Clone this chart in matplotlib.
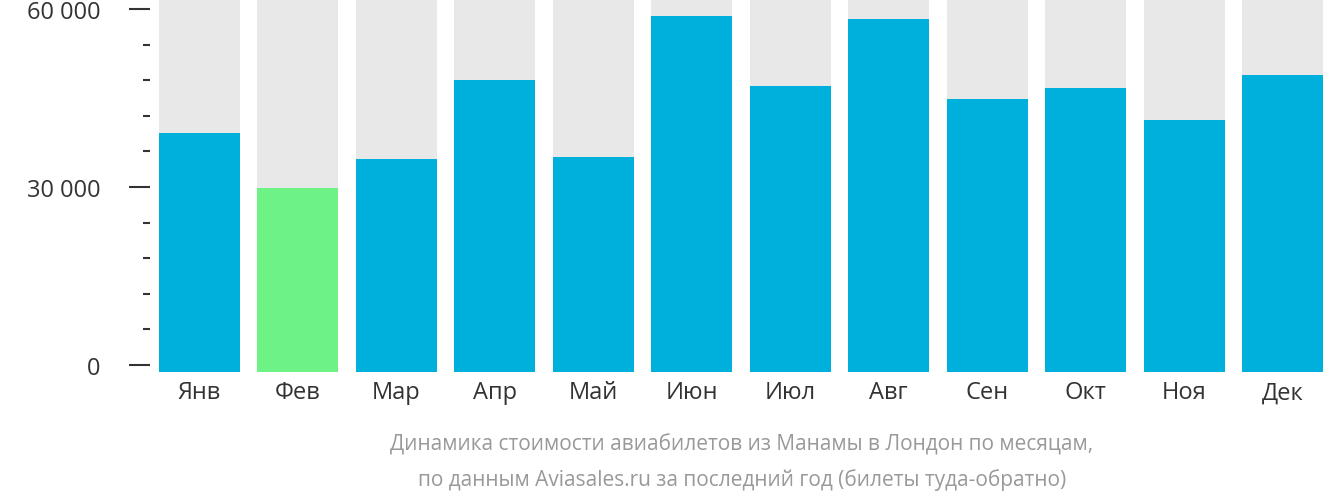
import matplotlib
matplotlib.use("Agg")
import matplotlib.pyplot as plt
from matplotlib.ticker import FixedLocator

months = ["Янв", "Фев", "Мар", "Апр", "Май", "Июн", "Июл", "Авг", "Сен", "Окт", "Ноя", "Дек"]
prices = [39100, 29800, 34700, 48000, 35050, 58800, 47000, 58300, 44800, 46700, 41300, 48900]
colors = ["#00b0dc", "#6cf285"] + ["#00b0dc"] * 10
major_ticks = [0, 30000, 60000]
major_labels = ["0 ₽", "30 000 ₽", "60 000 ₽"]
minor_ticks = [6000, 12000, 18000, 24000, 36000, 42000, 48000, 54000]
ymax = 61700
ymin = -1180

plt.rcParams["font.family"] = "Open Sans"
fig = plt.figure(figsize=(13.32, 5.02), dpi=100)
ax = fig.add_axes([150 / 1332, 1 - 373 / 502, 1 - 150 / 1332, 373 / 502])
x = list(range(len(months)))
ax.bar(x, [ymax - ymin] * len(x), bottom=ymin, width=0.82, color="#e8e8e8")
ax.bar(x, [p - ymin for p in prices], bottom=ymin, width=0.82, color=colors)
ax.set_xlim(-0.5, len(x) - 0.5)
ax.set_ylim(ymin, ymax)
for s in ax.spines.values():
    s.set_visible(False)
ax.set_xticks(x)
ax.set_xticklabels(months, fontsize=17, color="#333333")
ax.tick_params(axis="x", length=0, pad=6)
ax.yaxis.set_major_locator(FixedLocator(major_ticks))
ax.set_yticklabels(major_labels, fontsize=17, color="#333333")
ax.yaxis.set_minor_locator(FixedLocator(minor_ticks))
ax.tick_params(axis="y", which="major", length=15, width=1.5, color="#333333", pad=6)
ax.tick_params(axis="y", which="minor", length=5, width=1.5, color="#333333")
ax.yaxis.set_tick_params(which="both", direction="out")
for t in ax.yaxis.get_major_ticks() + ax.yaxis.get_minor_ticks():
    t.tick1line.set_markeredgewidth(1.5)
# offset ticks left of axes
import matplotlib.transforms as mt
ax.yaxis.set_ticks_position("left")
fig.text(742 / 1332, 1 - 445 / 502, "Динамика стоимости авиабилетов из Манамы в Лондон по месяцам,",
         ha="center", va="center", fontsize=15, color="#999999")
fig.text(742 / 1332, 1 - 480 / 502, "по данным Aviasales.ru за последний год (билеты туда-обратно)",
         ha="center", va="center", fontsize=15, color="#999999")
fig.savefig("out.png", dpi=100)
